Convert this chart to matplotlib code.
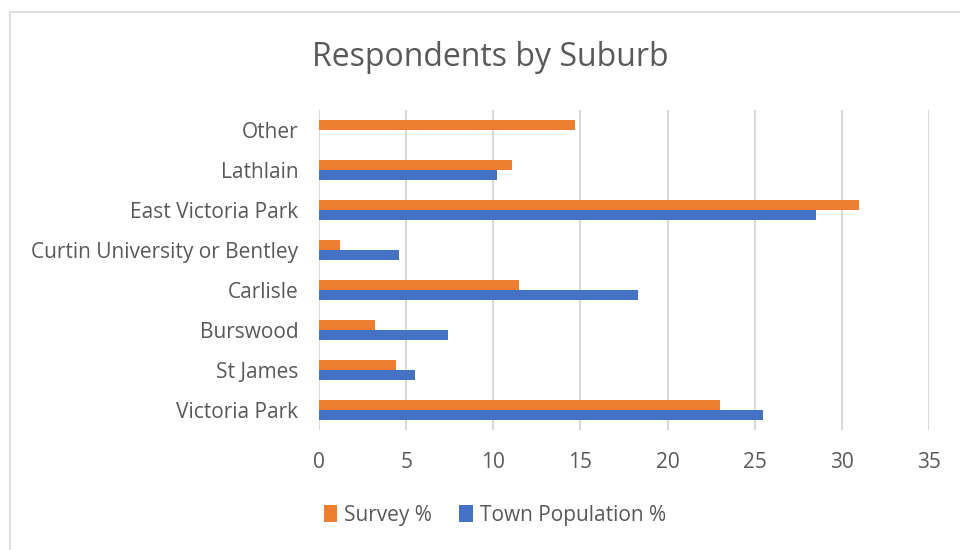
import matplotlib.pyplot as plt
from matplotlib.patches import Rectangle
import numpy as np

# Data
suburbs = ['Victoria Park', 'St James', 'Burswood', 'Carlisle',
           'Curtin University or Bentley', 'East Victoria Park', 'Lathlain', 'Other']
survey_pct = [23.0, 4.4, 3.2, 11.5, 1.2, 31.0, 11.1, 14.7]
town_pct = [25.5, 5.5, 7.4, 18.3, 4.6, 28.5, 10.2, 0]
x_ticks = [0, 5, 10, 15, 20, 25, 30, 35]

orange = '#ED7D31'
blue = '#4472C4'
grey_text = '#595959'

plt.rcParams['font.family'] = ['Open Sans', 'DejaVu Sans']

W, H = 960, 550
fig = plt.figure(figsize=(W / 100, H / 100), dpi=100)

# chart border: only the left and top edges are inside the picture
fig.patches.append(Rectangle((10 / W, -0.2), 1.2, 1.2 - 12 / H, transform=fig.transFigure,
                             fill=False, edgecolor='#D9D9D9', linewidth=1.2))

ax = fig.add_axes([319 / W, (H - 430) / H, (929 - 319) / W, (430 - 110) / H])

y = np.arange(len(suburbs))
h = 0.25
ax.barh(y - h / 2, town_pct, height=h, color=blue, label='Town Population %', zorder=3)
ax.barh(y + h / 2, survey_pct, height=h, color=orange, label='Survey %', zorder=3)

ax.set_xlim(0, 35)
ax.set_ylim(-0.5, len(suburbs) - 0.5)
ax.set_xticks(x_ticks)
ax.set_yticks(y)
ax.set_yticklabels(suburbs)
ax.tick_params(axis='both', length=0, labelsize=15, labelcolor=grey_text)
ax.tick_params(axis='x', pad=16)
ax.tick_params(axis='y', pad=15)
ax.grid(axis='x', color='#D9D9D9', linewidth=1.5, zorder=0)
for s in ax.spines.values():
    s.set_visible(False)

fig.text(490 / W, 1 - 57 / H, 'Respondents by Suburb', ha='center', va='center',
         fontsize=23, color=grey_text)

handles, labels = ax.get_legend_handles_labels()
fig.legend(handles[::-1], labels[::-1], loc='center', bbox_to_anchor=(495 / W, 1 - 515 / H),
           ncol=2, frameon=False, fontsize=15, labelcolor=grey_text,
           handlelength=0.65, handleheight=0.9, handletextpad=0.35, columnspacing=1.3)

fig.savefig('out.png', dpi=100)
